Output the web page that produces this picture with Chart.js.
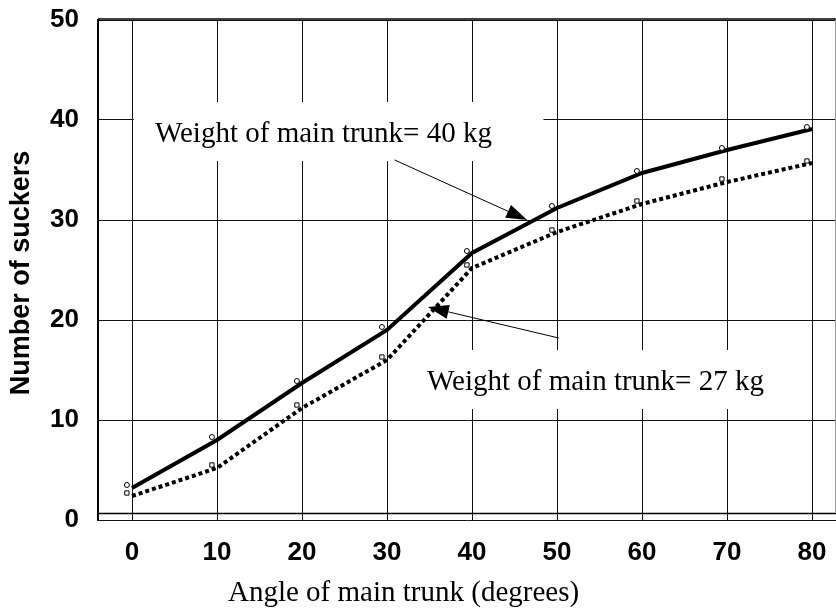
<!DOCTYPE html>
<html>
<head>
<meta charset="utf-8">
<script src="https://cdn.jsdelivr.net/npm/chart.js@4.4.1/dist/chart.umd.min.js"></script>
<style>
  html, body { margin: 0; padding: 0; background: #fff; }
  #wrap { width: 836px; height: 611px; }
</style>
</head>
<body>
<div id="wrap"><canvas id="chart" width="836" height="611"></canvas></div>
<script>
// X軸：主幹の角度
const angles = [0, 10, 20, 30, 40, 50, 60, 70, 80];
// 折れ線（主幹重量 40kg / 27kg）
const trunk40 = [3.2, 8.0, 13.7, 19.0, 26.7, 31.2, 34.7, 37.0, 39.1];
const trunk27 = [2.4, 5.2, 11.2, 16.0, 25.2, 28.8, 31.6, 33.8, 35.7];
// マーカー（元の図では線より少し左上にずれて描かれている）
const markerAngles = [-0.6, 9.4, 19.4, 29.4, 39.4, 49.4, 59.4, 69.4, 79.4];
const marker40 = [3.5, 8.3, 13.9, 19.3, 26.9, 31.4, 34.9, 37.2, 39.3];
const marker27 = [2.7, 5.5, 11.5, 16.3, 25.5, 29.0, 31.9, 34.1, 35.9];
// 目盛り
const xTicks = [0, 10, 20, 30, 40, 50, 60, 70, 80];
const yTicks = [0, 10, 20, 30, 40, 50];

const label40 = 'Weight of main trunk= 40 kg';
const label27 = 'Weight of main trunk= 27 kg';
const xTitle = 'Angle of main trunk (degrees)';
const yTitle = 'Number of suckers';

const SANS = "'Liberation Sans', Arial, sans-serif";
const SERIF = "'Liberation Serif', 'Times New Roman', serif";

// 注記の位置（データ座標）
const notes = [
    { text: label40, box: [0.2, 41.8, 48.4, 35.9], at: [2.7, 37.8], from: [30.9, 36.0], to: [46.5, 30.0] },
    { text: label27, box: [32.1, 17.0, 77.4, 11.1], at: [34.7, 13.0], from: [50.2, 18.2], to: [34.8, 21.3] }
];

function toXY(chart, p) {
    return [chart.scales.x.getPixelForValue(p[0]), chart.scales.y.getPixelForValue(p[1])];
}

function drawArrow(ctx, x1, y1, x2, y2) {
    const ang = Math.atan2(y2 - y1, x2 - x1);
    const len = 21, half = 7;
    const c = Math.cos(ang), s = Math.sin(ang);
    ctx.save();
    ctx.strokeStyle = '#000';
    ctx.fillStyle = '#000';
    ctx.lineWidth = 1;
    ctx.beginPath();
    ctx.moveTo(x1, y1);
    ctx.lineTo(x2 - c * len, y2 - s * len);
    ctx.stroke();
    ctx.beginPath();
    ctx.moveTo(x2, y2);
    ctx.lineTo(x2 - c * len - s * half, y2 - s * len + c * half);
    ctx.lineTo(x2 - c * len + s * half, y2 - s * len - c * half);
    ctx.closePath();
    ctx.fill();
    ctx.restore();
}

// 注記・枠線・軸タイトルを描くプラグイン
const decorPlugin = {
    id: 'decor',
    beforeDatasetsDraw(chart) {
        const ctx = chart.ctx;
        ctx.save();
        notes.forEach(n => {
            const [bx1, by1] = toXY(chart, [n.box[0], n.box[1]]);
            const [bx2, by2] = toXY(chart, [n.box[2], n.box[3]]);
            ctx.fillStyle = '#fff';
            ctx.fillRect(bx1, by1, bx2 - bx1, by2 - by1);
            const [tx, ty] = toXY(chart, n.at);
            ctx.fillStyle = '#000';
            ctx.font = '29px ' + SERIF;
            ctx.textAlign = 'left';
            ctx.textBaseline = 'alphabetic';
            ctx.fillText(n.text, tx, ty);
        });
        ctx.restore();
    },
    afterDatasetsDraw(chart) {
        const ctx = chart.ctx;
        const area = chart.chartArea;
        notes.forEach(n => {
            const [x1, y1] = toXY(chart, n.from);
            const [x2, y2] = toXY(chart, n.to);
            drawArrow(ctx, x1, y1, x2, y2);
        });
        // 枠線
        const yb = chart.scales.y.getPixelForValue(0.7);
        ctx.save();
        ctx.strokeStyle = '#000';
        ctx.lineWidth = 1.5;
        ctx.beginPath();
        ctx.moveTo(area.left, yb + 0.5);
        ctx.lineTo(area.right, yb + 0.5);
        ctx.moveTo(area.left, area.top - 1);
        ctx.lineTo(area.right, area.top - 1);
        ctx.stroke();
        ctx.lineWidth = 1;
        ctx.strokeStyle = '#999';
        ctx.beginPath();
        ctx.moveTo(area.right - 0.5, area.top);
        ctx.lineTo(area.right - 0.5, yb);
        ctx.stroke();
        // 軸タイトル
        ctx.fillStyle = '#000';
        ctx.font = '29px ' + SERIF;
        ctx.textAlign = 'left';
        ctx.textBaseline = 'alphabetic';
        ctx.fillText(xTitle, 228, 601);
        ctx.translate(22, 273);
        ctx.rotate(-Math.PI / 2);
        ctx.font = 'bold 27px ' + SANS;
        ctx.textAlign = 'center';
        ctx.textBaseline = 'middle';
        ctx.fillText(yTitle, 0, 0);
        ctx.restore();
    }
};

const ctx = document.getElementById('chart').getContext('2d');
new Chart(ctx, {
    type: 'line',
    data: {
        datasets: [
            {
                label: 'marker40',
                data: markerAngles.map((a, i) => ({ x: a, y: marker40[i] })),
                showLine: false,
                pointStyle: 'circle',
                pointRadius: 2.5,
                pointBorderWidth: 1,
                pointBorderColor: '#000',
                pointBackgroundColor: '#fff',
                order: 0
            },
            {
                label: 'marker27',
                data: markerAngles.map((a, i) => ({ x: a, y: marker27[i] })),
                showLine: false,
                pointStyle: 'rect',
                pointRadius: 3,
                pointBorderWidth: 1,
                pointBorderColor: '#000',
                pointBackgroundColor: '#fff',
                order: 0
            },
            {
                label: label40,
                data: angles.map((a, i) => ({ x: a, y: trunk40[i] })),
                borderColor: '#000',
                borderWidth: 4,
                tension: 0,
                pointRadius: 0,
                order: 1
            },
            {
                label: label27,
                data: angles.map((a, i) => ({ x: a, y: trunk27[i] })),
                borderColor: '#000',
                borderWidth: 4,
                borderDash: [4, 3],
                borderCapStyle: 'butt',
                tension: 0,
                pointRadius: 0,
                order: 1
            }
        ]
    },
    options: {
        responsive: false,
        animation: false,
        layout: { autoPadding: false, padding: { top: 20, right: 0, left: 0, bottom: 0 } },
        scales: {
            x: {
                type: 'linear',
                min: -4,
                max: 82.82,
                afterBuildTicks: scale => { scale.ticks = xTicks.map(v => ({ value: v })); },
                afterFit: scale => {
                    scale.height = 91;
                    scale.paddingLeft = 0;
                    scale.paddingRight = 0;
                },
                grid: { color: '#111', lineWidth: 1, drawTicks: false },
                border: { display: false },
                ticks: {
                    color: '#000',
                    padding: 17,
                    maxRotation: 0,
                    autoSkip: false,
                    font: { family: SANS, size: 26, weight: 'bold' }
                }
            },
            y: {
                min: 0,
                max: 50,
                afterBuildTicks: scale => { scale.ticks = yTicks.map(v => ({ value: v })); },
                afterFit: scale => {
                    scale.width = 98;
                    scale.paddingTop = 0;
                    scale.paddingBottom = 0;
                },
                grid: { color: '#111', lineWidth: 1, drawTicks: false },
                border: { display: true, color: '#000', width: 2 },
                ticks: {
                    color: '#000',
                    padding: 19,
                    font: { family: SANS, size: 26, weight: 'bold' }
                }
            }
        },
        plugins: {
            legend: { display: false },
            tooltip: { enabled: false }
        }
    },
    plugins: [decorPlugin]
});
</script>
</body>
</html>
